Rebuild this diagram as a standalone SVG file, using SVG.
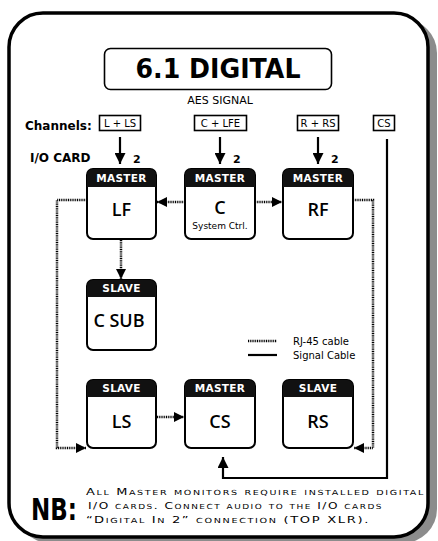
<svg xmlns="http://www.w3.org/2000/svg" width="438" height="541" viewBox="0 0 438 541">
<defs>
<marker id="ah" viewBox="0 0 10 10" refX="10" refY="5" markerWidth="10" markerHeight="10" markerUnits="userSpaceOnUse" orient="auto"><path d="M0,0 L10,5 L0,10 Z" fill="#000"/></marker>
<marker id="ahs" viewBox="0 0 10 10" refX="10" refY="5" markerWidth="11" markerHeight="11" markerUnits="userSpaceOnUse" orient="auto"><path d="M0,0 L10,5 L0,10 Z" fill="#000"/></marker>
</defs>
<style>
.t{font-family:"DejaVu Sans","Liberation Sans",sans-serif;fill:#000}
.box{fill:#fff;stroke:#000;stroke-width:2}
.hd{fill:#111}
.ht{font-family:"DejaVu Sans","Liberation Sans",sans-serif;font-weight:bold;font-size:10.5px;fill:#fff;text-anchor:middle;letter-spacing:0.3px}
.lb{font-family:"Open Sans","DejaVu Sans",sans-serif;font-weight:600;font-size:18px;fill:#000;text-anchor:middle}
.dot{fill:none;stroke:#000;stroke-width:2.5;stroke-dasharray:1 0.8}
.sig{fill:none;stroke:#000;stroke-width:2.2}
.ch{fill:#fff;stroke:#000;stroke-width:1.6}
.cht{font-family:"DejaVu Sans","Liberation Sans",sans-serif;font-size:10px;fill:#000;text-anchor:middle}
.nb{font-family:"DejaVu Sans","Liberation Sans",sans-serif;font-size:9.5px;font-variant:small-caps;letter-spacing:1.2px;fill:#000}
</style>
<rect width="438" height="541" fill="#fff"/>
<rect x="16" y="19" width="421" height="524" rx="34" fill="#8c8c8c"/>
<rect x="9" y="13" width="419" height="524" rx="34" fill="#fff" stroke="#000" stroke-width="3.5"/>

<g id="title">
<rect x="104.5" y="48.5" width="227" height="41" rx="6" fill="#fff" stroke="#000" stroke-width="1.6"/>
<text class="t" x="218" y="78" font-size="26" font-weight="900" text-anchor="middle" textLength="165" lengthAdjust="spacingAndGlyphs">6.1 DIGITAL</text>
<text class="t" x="220" y="104" font-size="11" text-anchor="middle">AES SIGNAL</text>
</g>

<g id="labels">
<text class="t" x="25" y="130" font-size="12" font-weight="bold">Channels:</text>
<text class="t" x="30" y="162" font-size="12" font-weight="bold">I/O CARD</text>
</g>

<g id="ch-l"><rect class="ch" x="99.5" y="115.5" width="41" height="15"/><text class="cht" x="120" y="127">L + LS</text></g>
<g id="ch-c"><rect class="ch" x="194.5" y="115.5" width="52" height="15"/><text class="cht" x="220.5" y="127">C + LFE</text></g>
<g id="ch-r"><rect class="ch" x="297.5" y="115.5" width="41" height="15"/><text class="cht" x="318" y="127">R + RS</text></g>
<g id="ch-cs"><rect class="ch" x="373.5" y="115.5" width="21" height="15"/><text class="cht" x="384" y="127">CS</text></g>

<g id="connectors">
<line class="sig" x1="120" y1="137" x2="120" y2="164" marker-end="url(#ahs)"/>
<line class="sig" x1="220" y1="137" x2="220" y2="164" marker-end="url(#ahs)"/>
<line class="sig" x1="318" y1="137" x2="318" y2="164" marker-end="url(#ahs)"/>
<text class="t" x="133" y="163" font-size="11" font-weight="bold">2</text>
<text class="t" x="233" y="163" font-size="11" font-weight="bold">2</text>
<text class="t" x="331" y="163" font-size="11" font-weight="bold">2</text>
<line class="dot" x1="185" y1="202" x2="157" y2="202" marker-end="url(#ah)"/>
<line class="dot" x1="255" y1="202" x2="282" y2="202" marker-end="url(#ah)"/>
<polyline class="dot" points="87,200 57,200 57,448 86,448" marker-end="url(#ah)"/>
<polyline class="dot" points="353,200 373,200 373,448 354,448" marker-end="url(#ah)"/>
<line class="dot" x1="121" y1="240" x2="121" y2="279" marker-end="url(#ah)"/>
<line class="dot" x1="157" y1="417" x2="184" y2="417" marker-end="url(#ah)"/>
<polyline class="sig" points="387,139 387,478 223,478 223,457" marker-end="url(#ahs)"/>
<line class="dot" x1="248" y1="341" x2="277" y2="341"/>
<line class="sig" x1="248" y1="355" x2="277" y2="355"/>
<text class="t" x="293" y="345" font-size="10">RJ-45 cable</text>
<text class="t" x="293" y="359" font-size="10">Signal Cable</text>
</g>

<g id="lf">
<rect class="box" x="87" y="169" width="69" height="70" rx="6"/>
<path class="hd" d="M87,187 V175 a6,6 0 0 1 6,-6 H150 a6,6 0 0 1 6,6 V187 Z"/>
<text class="ht" x="121.5" y="182">MASTER</text>
<text class="lb" x="121.5" y="216">LF</text>
</g>
<g id="c">
<rect class="box" x="185" y="169" width="70" height="70" rx="6"/>
<path class="hd" d="M185,187 V175 a6,6 0 0 1 6,-6 H249 a6,6 0 0 1 6,6 V187 Z"/>
<text class="ht" x="220" y="182">MASTER</text>
<text class="lb" x="220" y="214">C</text>
<text class="t" x="220" y="229" font-size="9" text-anchor="middle">System Ctrl.</text>
</g>
<g id="rf">
<rect class="box" x="283" y="169" width="70" height="70" rx="6"/>
<path class="hd" d="M283,187 V175 a6,6 0 0 1 6,-6 H347 a6,6 0 0 1 6,6 V187 Z"/>
<text class="ht" x="318" y="182">MASTER</text>
<text class="lb" x="318" y="216">RF</text>
</g>
<g id="csub">
<rect class="box" x="87" y="280" width="69" height="70" rx="6"/>
<path class="hd" d="M87,297 V286 a6,6 0 0 1 6,-6 H150 a6,6 0 0 1 6,6 V297 Z"/>
<text class="ht" x="121.5" y="292">SLAVE</text>
<text class="lb" x="119" y="327">C SUB</text>
</g>
<g id="ls">
<rect class="box" x="87" y="380" width="69" height="68" rx="6"/>
<path class="hd" d="M87,397 V386 a6,6 0 0 1 6,-6 H150 a6,6 0 0 1 6,6 V397 Z"/>
<text class="ht" x="121.5" y="392">SLAVE</text>
<text class="lb" x="121.5" y="428">LS</text>
</g>
<g id="cs">
<rect class="box" x="185" y="380" width="70" height="68" rx="6"/>
<path class="hd" d="M185,397 V386 a6,6 0 0 1 6,-6 H249 a6,6 0 0 1 6,6 V397 Z"/>
<text class="ht" x="220" y="392">MASTER</text>
<text class="lb" x="220" y="428">CS</text>
</g>
<g id="rs">
<rect class="box" x="283" y="380" width="70" height="68" rx="6"/>
<path class="hd" d="M283,397 V386 a6,6 0 0 1 6,-6 H347 a6,6 0 0 1 6,6 V397 Z"/>
<text class="ht" x="318" y="392">SLAVE</text>
<text class="lb" x="318" y="428">RS</text>
</g>

<g id="note">
<text class="t" x="31" y="520" font-size="30" font-weight="bold" textLength="46" lengthAdjust="spacingAndGlyphs">NB:</text>
<text class="nb" x="86" y="495" textLength="339" lengthAdjust="spacingAndGlyphs">All Master monitors require installed  digital</text>
<text class="nb" x="88" y="509" textLength="295" lengthAdjust="spacingAndGlyphs">I/O cards. Connect audio to the I/O cards</text>
<text class="nb" x="86" y="523" textLength="284" lengthAdjust="spacingAndGlyphs">“Digital In 2” connection (TOP XLR).</text>
</g>
</svg>
